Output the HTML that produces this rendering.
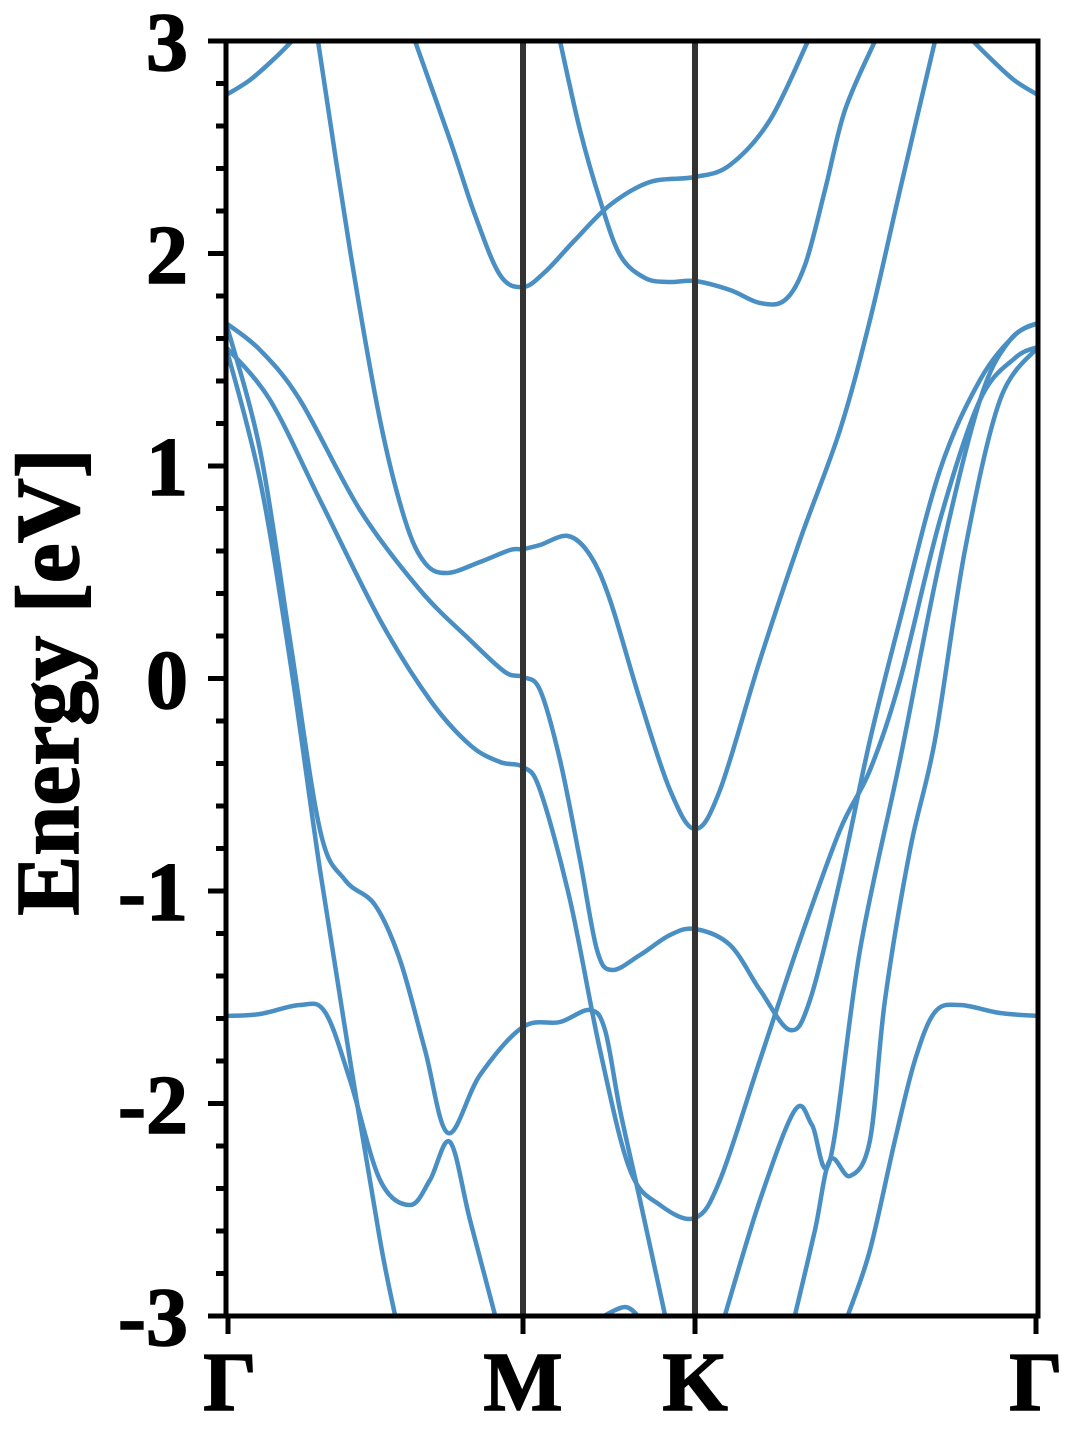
<!DOCTYPE html>
<html><head><meta charset="utf-8"><style>
html,body{margin:0;padding:0;background:#fff;}
svg{display:block;}
text{font-family:"Liberation Serif",serif;font-weight:bold;fill:#000;}
</style></head><body>
<svg id="s" width="1080" height="1440" viewBox="0 0 1080 1440" xmlns="http://www.w3.org/2000/svg">
<g id="bands" fill="none" stroke="#4a8fc3" stroke-width="4.5" stroke-linejoin="round" stroke-linecap="round"></g>
<line x1="523" y1="41" x2="523" y2="1316" stroke="#333" stroke-width="6"/>
<line x1="695" y1="41" x2="695" y2="1316" stroke="#333" stroke-width="6"/>
<rect x="226" y="41" width="812" height="1275" fill="none" stroke="#000" stroke-width="5"/>
<g id="ticks" stroke="#000" stroke-width="5"></g>
<g font-size="84" text-anchor="end" stroke="#000" stroke-width="1.5">
<text x="188" y="70">3</text><text x="188" y="283">2</text><text x="188" y="495">1</text>
<text x="188" y="708">0</text><text x="188" y="920">-1</text><text x="188" y="1133">-2</text><text x="188" y="1345">-3</text>
</g>
<g font-size="84" text-anchor="middle" stroke="#000" stroke-width="1.5">
<text x="230" y="1410">Γ</text><text x="523" y="1410">M</text><text x="695" y="1410">K</text><text x="1036" y="1410">Γ</text>
</g>
<text font-size="90" text-anchor="middle" stroke="#000" stroke-width="1.5" transform="translate(78,682) rotate(-90)">Energy [eV]</text>
</svg>
<script>
var B=[
[[226,95],[250,80],[275,58],[292,41]],
[[1038,95],[1014,80],[990,58],[973,41]],
[[318,41],[350,250],[380,420],[405,520],[425,563],[447,573],[480,562],[510,550],[523,549],[540,545],[568,536],[590,555],[610,600],[640,700],[670,790],[695,829],[720,790],[760,660],[800,540],[840,430],[870,320],[900,190],[935,41]],
[[415,41],[450,140],[475,215],[500,275],[523,287],[545,272],[575,240],[610,205],[650,182],[695,177],[730,165],[770,120],[808,41]],
[[560,41],[580,130],[600,200],[620,255],[645,278],[670,282],[695,281],[730,290],[760,303],[785,300],[805,265],[825,190],[845,110],[875,41]],
[[226,323],[260,350],[300,400],[360,510],[420,590],[470,640],[505,672],[523,677],[540,690],[560,760],[580,860],[597,950],[612,970],[640,955],[670,935],[695,929],[730,945],[760,990],[790,1030],[810,1000],[840,880],[870,740],[900,620],[940,470],[980,380],[1015,335],[1038,323]],
[[226,347],[270,400],[320,500],[380,620],[430,700],[470,745],[500,762],[523,767],[540,790],[570,900],[600,1050],[630,1170],[660,1205],[695,1218],[720,1180],[760,1060],[800,940],[840,830],[870,770],[900,680],[940,520],[980,400],[1015,358],[1038,347]],
[[226,323],[260,450],[290,640],[320,830],[345,880],[375,905],[400,960],[425,1050],[448,1133],[480,1075],[523,1027],[560,1022],[590,1010],[605,1030],[620,1110],[640,1200],[665,1315]],
[[226,347],[260,480],[290,660],[320,870],[350,1060],[380,1240],[395,1315]],
[[226,1016],[260,1014],[300,1005],[325,1012],[350,1080],[380,1180],[410,1205],[430,1180],[450,1142],[470,1220],[495,1315]],
[[600,1318],[625,1307],[640,1318]],
[[725,1315],[760,1200],[795,1110],[812,1125],[830,1160],[860,950],[900,760],[940,560],[980,400],[1010,340],[1038,323]],
[[795,1315],[815,1230],[830,1160],[850,1176],[870,1140],[885,1000],[910,850],[935,740],[965,550],[1000,400],[1038,347]],
[[1038,1016],[1000,1013],[960,1005],[935,1012],[915,1060],[895,1140],[870,1250],[848,1315]]
];
function cr(p){var d="M"+p[0][0]+","+p[0][1];for(var i=0;i<p.length-1;i++){var p0=p[i-1]||p[i],p1=p[i],p2=p[i+1],p3=p[i+2]||p2;
var c1=[p1[0]+(p2[0]-p0[0])/6,p1[1]+(p2[1]-p0[1])/6],c2=[p2[0]-(p3[0]-p1[0])/6,p2[1]-(p3[1]-p1[1])/6];
d+=" C"+c1[0]+","+c1[1]+" "+c2[0]+","+c2[1]+" "+p2[0]+","+p2[1];}return d;}
var g=document.getElementById("bands"),ns="http://www.w3.org/2000/svg";
var cp=document.createElementNS(ns,"clipPath");cp.id="c";var r=document.createElementNS(ns,"rect");
r.setAttribute("x",226);r.setAttribute("y",41);r.setAttribute("width",812);r.setAttribute("height",1275);cp.appendChild(r);
document.getElementById("s").appendChild(cp);g.setAttribute("clip-path","url(#c)");
B.forEach(function(p){var e=document.createElementNS(ns,"path");e.setAttribute("d",cr(p));g.appendChild(e);});
var t=document.getElementById("ticks");
for(var k=0;k<=30;k++){var y=41+k*42.5;var L=(k%5==0)?18:10;var l=document.createElementNS(ns,"line");
l.setAttribute("x1",226-L);l.setAttribute("x2",226);l.setAttribute("y1",y);l.setAttribute("y2",y);t.appendChild(l);}
[228,523,695,1036].forEach(function(x){var l=document.createElementNS(ns,"line");l.setAttribute("x1",x);l.setAttribute("x2",x);l.setAttribute("y1",1316);l.setAttribute("y2",1334);t.appendChild(l);});
</script>
</body></html>
